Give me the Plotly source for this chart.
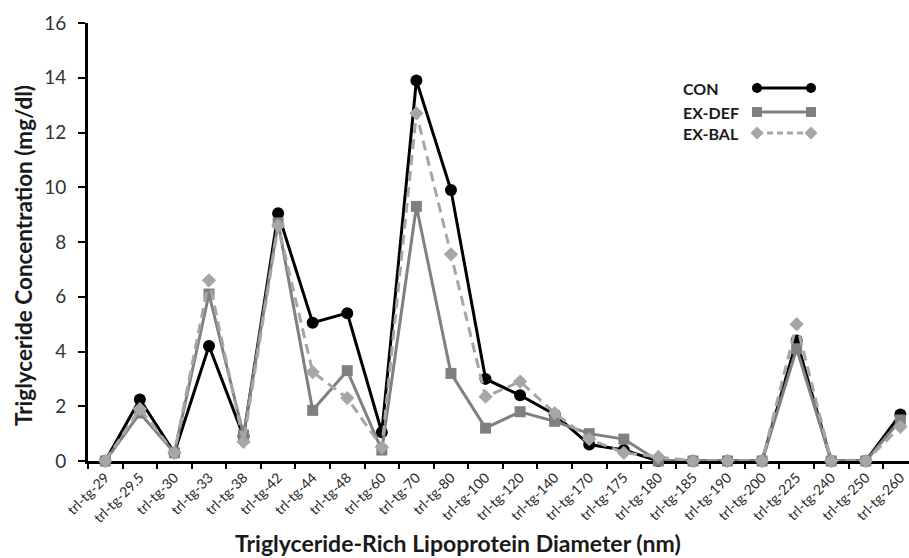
import plotly.graph_objects as go

categories = ["trl-tg-29", "trl-tg-29.5", "trl-tg-30", "trl-tg-33", "trl-tg-38", "trl-tg-42",
              "trl-tg-44", "trl-tg-48", "trl-tg-60", "trl-tg-70", "trl-tg-80", "trl-tg-100",
              "trl-tg-120", "trl-tg-140", "trl-tg-170", "trl-tg-175", "trl-tg-180", "trl-tg-185",
              "trl-tg-190", "trl-tg-200", "trl-tg-225", "trl-tg-240", "trl-tg-250", "trl-tg-260"]

con = [0, 2.25, 0.3, 4.2, 0.9, 9.05, 5.05, 5.4, 1.05, 13.9, 9.9, 3.0,
       2.4, 1.7, 0.6, 0.4, 0, 0, 0, 0, 4.4, 0, 0, 1.7]
ex_def = [0, 1.75, 0.3, 6.1, 0.95, 8.7, 1.85, 3.3, 0.4, 9.3, 3.2, 1.2,
          1.8, 1.45, 1.0, 0.8, 0, 0, 0, 0, 4.1, 0, 0, 1.5]
ex_bal = [0, 1.9, 0.3, 6.6, 0.7, 8.6, 3.25, 2.3, 0.5, 12.7, 7.55, 2.35,
          2.9, 1.75, 0.8, 0.3, 0.15, 0, 0, 0, 5.0, 0, 0, 1.25]

y_ticks = [0, 2, 4, 6, 8, 10, 12, 14, 16]

series = [
    ("CON", con, "#000000", "solid", "circle", 12),
    ("EX-DEF", ex_def, "#808080", "solid", "square", 11),
    ("EX-BAL", ex_bal, "#a6a6a6", "10px,6px", "diamond", 11),
]

FONT = "Lato"
W, H = 909, 558
L, R, T, B = 88, 0, 23, 97

fig = go.Figure()
for name, vals, col, dash, sym, sz in series:
    fig.add_trace(go.Scatter(
        x=categories, y=vals, name=name, mode="lines+markers",
        line=dict(color=col, width=3, dash=dash),
        marker=dict(symbol=sym, size=sz, color=col),
        cliponaxis=False, showlegend=False,
    ))

# custom legend (text on the left, sample on the right), drawn in an overlay axis in pixel units
leg_y = [88, 112, 133]
for (name, vals, col, dash, sym, sz), ly in zip(series, leg_y):
    fig.add_trace(go.Scatter(
        x=[757, 811], y=[ly, ly], mode="lines+markers", xaxis="x2", yaxis="y2",
        line=dict(color=col, width=3, dash="solid" if dash == "solid" else "6px,4px"),
        marker=dict(symbol=sym, size=10, color=col),
        showlegend=False, hoverinfo="skip", cliponaxis=False,
    ))
    fig.add_annotation(x=681, y=ly, xref="x2", yref="y2", text="<b>%s</b>" % name,
                       showarrow=False, xanchor="left", yanchor="middle",
                       font=dict(family=FONT, size=16, color="#1a1a1a"))

fig.update_layout(
    width=W, height=H,
    margin=dict(l=L, r=R, t=T, b=B, autoexpand=False),
    paper_bgcolor="white", plot_bgcolor="white",
    font=dict(family=FONT, color="#333333"),
    xaxis=dict(
        type="category", range=[-0.5, 23.25], automargin=False,
        showline=True, linecolor="black", linewidth=3, layer="below traces",
        ticks="outside", tickson="boundaries", ticklen=5, tickwidth=2, tickcolor="black",
        tickangle=-45, tickfont=dict(family=FONT, size=14, color="#2a2a2a"),
        showgrid=False, zeroline=False,
    ),
    yaxis=dict(
        range=[0, 16], tickvals=y_ticks, automargin=False,
        showline=True, linecolor="black", linewidth=3, layer="below traces",
        ticks="outside", ticklen=7, tickwidth=2, tickcolor="black",
        tickfont=dict(family=FONT, size=19, color="#333333"),
        ticklabelstandoff=8,
        showgrid=False, zeroline=False,
    ),
    xaxis2=dict(range=[L, W - R], overlaying="x", visible=False, fixedrange=True),
    yaxis2=dict(range=[H - B, T], overlaying="y", visible=False, fixedrange=True),
    showlegend=False,
)

fig.add_annotation(x=0.451, y=0, xref="paper", yref="paper", yshift=-(543 - 461),
                   text="<b>Triglyceride-Rich Lipoprotein Diameter (nm)</b>", showarrow=False,
                   xanchor="center", yanchor="middle",
                   font=dict(family=FONT, size=23, color="#1a1a1a"))
fig.add_annotation(x=0, y=0.468, xref="paper", yref="paper", xshift=-(L - 23),
                   text="<b>Triglyceride Concentration (mg/dl)</b>", showarrow=False,
                   textangle=-90, xanchor="center", yanchor="middle",
                   font=dict(family=FONT, size=22.5, color="#1a1a1a"))

fig.write_html("out.html", config={"displayModeBar": False},
               post_script="document.body.style.margin='0';document.body.style.overflow='hidden';")
